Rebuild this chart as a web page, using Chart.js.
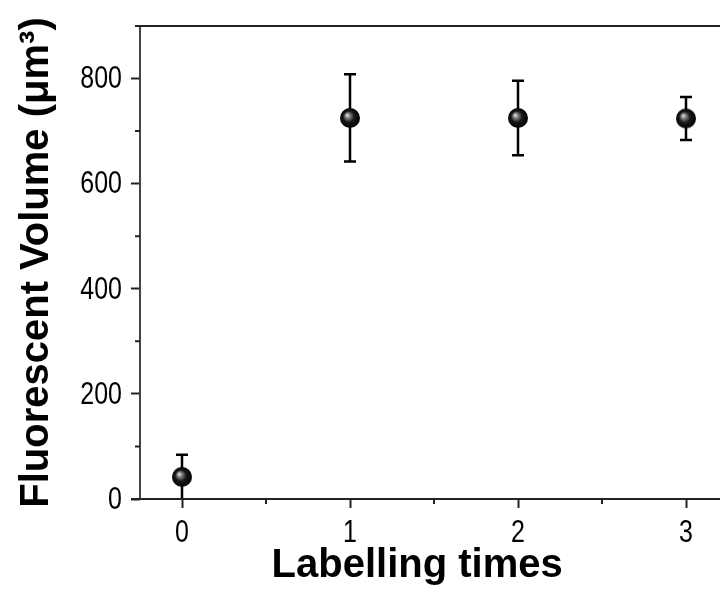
<!DOCTYPE html>
<html>
<head>
<meta charset="utf-8">
<script src="https://cdn.jsdelivr.net/npm/chart.js@4/dist/chart.umd.min.js"></script>
<style>
  html, body { margin: 0; padding: 0; background: #fff; overflow: hidden; }
  #wrap { position: relative; width: 730px; height: 596px; }
</style>
</head>
<body>
<div id="wrap"><canvas id="chart"></canvas></div>
<script>
// labelling rounds vs fluorescent volume
const labellingTimes = [0, 1, 2, 3];
const volumeMean = [42, 725, 725, 724];
const volumeErr = [42, 83, 71, 41];

const xTicks = [0, 1, 2, 3];
const xMinorTicks = [0.5, 1.5, 2.5];
const yTicks = [0, 200, 400, 600, 800];
const yMinorTicks = [100, 300, 500, 700];

const xTitle = 'Labelling times';
const yTitle = 'Fluorescent Volume (μm³)';

const tickFontCss = "32px 'Liberation Sans', Arial, sans-serif";
const titleFontCss = "bold 40px 'Liberation Sans', Arial, sans-serif";
const titleFont = { family: "'Liberation Sans', Arial, sans-serif", size: 40, weight: 'bold' };

// shaded ball marker
function makeBall(r) {
  const c = document.createElement('canvas');
  c.width = c.height = r * 2 + 2;
  const g = c.getContext('2d');
  const cx = r + 1, cy = r + 1;
  const grad = g.createRadialGradient(cx - r * 0.3, cy - r * 0.3, 0, cx, cy, r);
  grad.addColorStop(0, '#f2f2f2');
  grad.addColorStop(0.22, '#8a8a8a');
  grad.addColorStop(0.55, '#1a1a1a');
  grad.addColorStop(1, '#000');
  g.fillStyle = grad;
  g.beginPath();
  g.arc(cx, cy, r, 0, Math.PI * 2);
  g.fill();
  return c;
}

const errorBars = {
  id: 'errorBars',
  beforeDatasetsDraw(chart) {
    const ctx = chart.ctx;
    const xs = chart.scales.x, ys = chart.scales.y;
    ctx.save();
    ctx.strokeStyle = '#000';
    ctx.lineWidth = 2.5;
    labellingTimes.forEach((t, i) => {
      const px = xs.getPixelForValue(t);
      const top = ys.getPixelForValue(volumeMean[i] + volumeErr[i]);
      const bot = ys.getPixelForValue(Math.max(0, volumeMean[i] - volumeErr[i]));
      ctx.beginPath();
      ctx.moveTo(px, top); ctx.lineTo(px, bot);
      ctx.moveTo(px - 6, top); ctx.lineTo(px + 6, top);
      if (volumeMean[i] - volumeErr[i] > 0) {
        ctx.moveTo(px - 6, bot); ctx.lineTo(px + 6, bot);
      }
      ctx.stroke();
    });
    ctx.restore();
  }
};

// axis frame, minor ticks, narrow tick labels, x title
const frame = {
  id: 'frame',
  afterDraw(chart) {
    const { left, right, top, bottom } = chart.chartArea;
    const ctx = chart.ctx;
    const xs = chart.scales.x, ys = chart.scales.y;
    ctx.save();
    ctx.lineWidth = 2;
    ctx.strokeStyle = '#444';
    ctx.beginPath();
    ctx.moveTo(left, top); ctx.lineTo(left, bottom);
    ctx.stroke();
    ctx.strokeStyle = '#222';
    ctx.beginPath();
    ctx.moveTo(left - 5, top); ctx.lineTo(right + 5, top);
    ctx.moveTo(left - 9, bottom); ctx.lineTo(right + 5, bottom);
    ctx.stroke();
    ctx.beginPath();
    yMinorTicks.forEach(v => {
      const py = ys.getPixelForValue(v);
      ctx.moveTo(left, py); ctx.lineTo(left - 5, py);
    });
    xMinorTicks.forEach(v => {
      const px = xs.getPixelForValue(v);
      ctx.moveTo(px, bottom); ctx.lineTo(px, bottom + 5);
    });
    ctx.stroke();

    ctx.fillStyle = '#000';
    ctx.font = tickFontCss;
    ys.ticks.forEach(t => {
      ctx.save();
      ctx.translate(left - 18, ys.getPixelForValue(t.value));
      ctx.scale(0.78, 1);
      ctx.textAlign = 'right';
      ctx.textBaseline = 'middle';
      ctx.fillText(String(t.value), 0, 1);
      ctx.restore();
    });
    xs.ticks.forEach(t => {
      ctx.save();
      ctx.translate(xs.getPixelForValue(t.value), 542);
      ctx.scale(0.78, 1);
      ctx.textAlign = 'center';
      ctx.textBaseline = 'alphabetic';
      ctx.fillText(String(t.value), 0, 0);
      ctx.restore();
    });

    // x title sits left of the axis centre in the source figure
    ctx.font = titleFontCss;
    ctx.textAlign = 'center';
    ctx.textBaseline = 'alphabetic';
    ctx.fillText(xTitle, xs.getPixelForValue(1.4), 577);
    ctx.restore();
  }
};

const ctx = document.getElementById('chart').getContext('2d');
new Chart(ctx, {
  type: 'scatter',
  data: {
    datasets: [{
      data: labellingTimes.map((t, i) => ({ x: t, y: volumeMean[i] })),
      pointStyle: makeBall(10),
      pointRadius: 10,
      pointHoverRadius: 10
    }]
  },
  options: {
    responsive: true,
    maintainAspectRatio: false,
    animation: false,
    events: [],
    layout: { autoPadding: false, padding: { top: 26, right: 2, left: 0, bottom: 0 } },
    plugins: { legend: { display: false }, tooltip: { enabled: false } },
    scales: {
      x: {
        type: 'linear',
        min: -0.25,
        max: 3.25,
        afterBuildTicks: s => { s.ticks = xTicks.map(v => ({ value: v })); },
        afterFit: s => { s.height = 97; s.paddingLeft = 0; s.paddingRight = 0; },
        border: { display: false },
        grid: { drawOnChartArea: false, tickLength: 9, tickWidth: 2, tickColor: '#222' },
        ticks: { display: false }
      },
      y: {
        min: 0,
        max: 900,
        afterBuildTicks: s => { s.ticks = yTicks.map(v => ({ value: v })); },
        afterFit: s => { s.width = 140; s.paddingTop = 0; s.paddingBottom = 0; },
        border: { display: false },
        grid: { drawOnChartArea: false, tickLength: 9, tickWidth: 2, tickColor: '#222' },
        ticks: { display: false },
        title: { display: true, text: yTitle, color: '#000', font: titleFont, padding: { top: 13, bottom: 0 } }
      }
    }
  },
  plugins: [errorBars, frame]
});
</script>
</body>
</html>
